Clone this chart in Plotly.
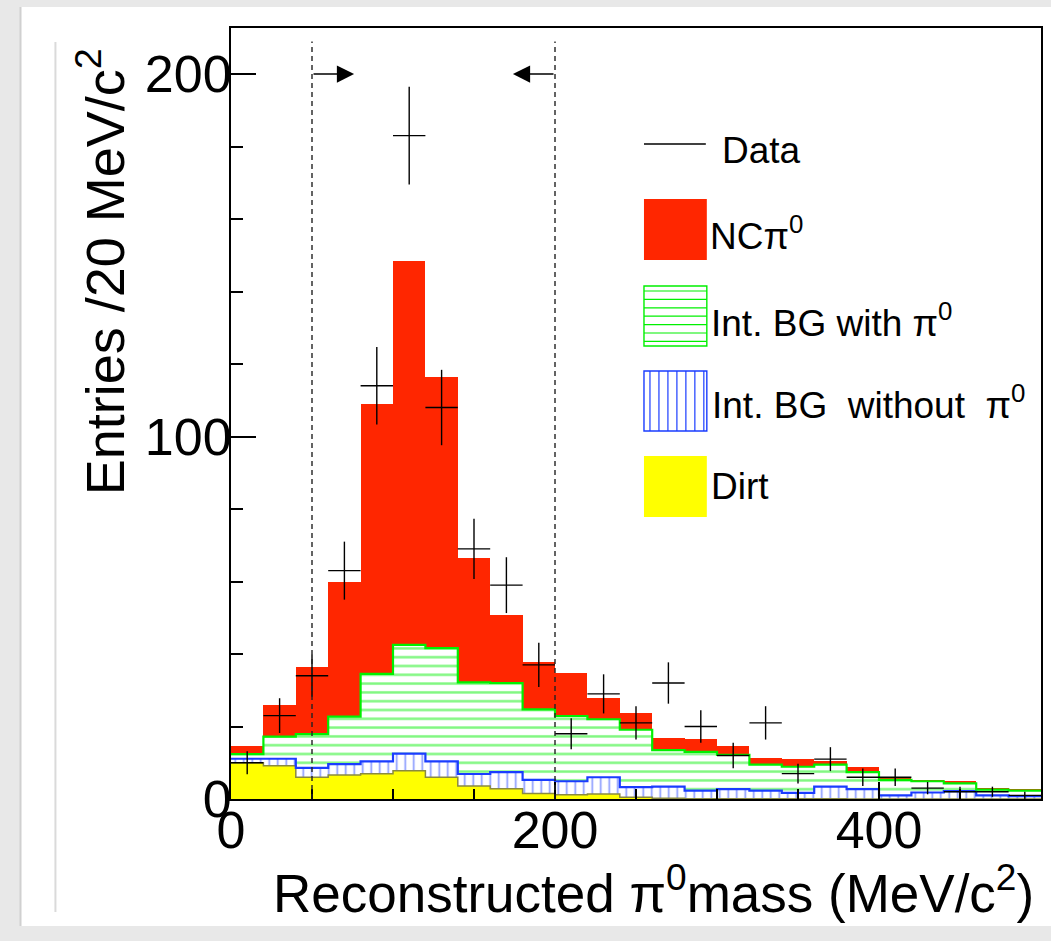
import numpy as np
import plotly.graph_objects as go

# ---------------- data ----------------
bin_centers = [10, 30, 50, 70, 90, 110, 130, 150, 170, 190, 210, 230, 250,
               270, 290, 310, 330, 350, 370, 390, 410, 430, 450, 470, 490]
bin_half_width = 10

dirt = [10.0, 9.2, 6.0, 6.6, 7.0, 7.8, 6.0, 3.6, 2.8, 1.5, 1.2, 1.4, 0.5,
        0.2, 0.1, 0.1, 0.1, 0.1, 0.1, 0.0, 0.0, 0.0, 0.0, 0.0, 0.0]
int_bg_without_pi0 = [1.1, 1.9, 2.6, 3.0, 3.4, 4.7, 4.4, 3.3, 4.6, 3.8, 3.7, 4.6, 2.8,
                      3.2, 2.2, 2.6, 2.2, 1.6, 3.3, 2.7, 1.0, 1.8, 2.2, 1.0, 0.8]
int_bg_with_pi0 = [1.3, 6.1, 9.3, 13.1, 24.1, 30.0, 31.2, 25.3, 24.6, 19.4, 18.0, 16.0, 15.8,
                   10.1, 10.7, 9.5, 7.2, 7.2, 6.1, 4.7, 4.3, 3.1, 2.1, 1.6, 1.5]
nc_pi0 = [2.2, 8.7, 18.6, 37.1, 74.5, 105.9, 74.7, 34.4, 18.9, 13.2, 11.8, 5.8, 4.6,
          3.3, 3.5, 2.3, 1.8, 2.0, 1.1, 1.5, 0.6, 0.4, 0.7, 0.5, 0.5]

data_counts = [10, 23, 34, 63, 114, 183, 108, 69, 59, 37, 18, 29, 21,
               32, 20, 12, 21, 7, 11, 6, 6, 3, 2, 2, 1]
data_errors = [3.2, 4.8, 5.8, 8.0, 10.7, 13.5, 10.4, 8.3, 7.7, 6.1, 4.3, 5.4, 4.6,
               5.7, 4.5, 3.5, 4.6, 2.7, 3.3, 2.4, 2.4, 1.7, 1.4, 1.4, 1.0]

cut_low, cut_high = 50, 200
x_ticks = [0, 200, 400]
y_ticks = [0, 100, 200]

# ---------------- styling ----------------
RED = "#ff2600"
YEL = "#ffff00"
GRN = "#00f000"
BLU = "#1a3cff"
FONT = "Liberation Sans, Arial, Helvetica, sans-serif"

W, H = 1051, 941
L, R, T, B = 231, 1043, 28, 799
YMAX = 212.7


def px(x):
    return (x - L) / (R - L)


def py(y):
    return (B - y) / (B - T)


edges = [c - bin_half_width for c in bin_centers] + [bin_centers[-1] + bin_half_width]
cum_dirt = np.array(dirt)
cum_blue = cum_dirt + np.array(int_bg_without_pi0)
cum_green = cum_blue + np.array(int_bg_with_pi0)

fig = go.Figure()

fig.add_trace(go.Bar(x=bin_centers, y=dirt, width=2 * bin_half_width, name="Dirt",
                     marker=dict(color=YEL, line=dict(width=0))))
fig.add_trace(go.Bar(x=bin_centers, y=int_bg_without_pi0, width=2 * bin_half_width,
                     name="Int. BG without π0",
                     marker=dict(color="white", line=dict(width=0),
                                 pattern=dict(shape="|", fgcolor=BLU, bgcolor="white",
                                              size=8.5, solidity=0.2))))
fig.add_trace(go.Bar(x=bin_centers, y=int_bg_with_pi0, width=2 * bin_half_width,
                     name="Int. BG with π0",
                     marker=dict(color="white", line=dict(width=0),
                                 pattern=dict(shape="-", fgcolor=GRN, bgcolor="white",
                                              size=8.8, solidity=0.28))))
fig.add_trace(go.Bar(x=bin_centers, y=nc_pi0, width=2 * bin_half_width, name="NCπ0",
                     marker=dict(color=RED, line=dict(width=0))))

# step outlines of the cumulative histograms
for cum, col, w in [(cum_dirt, "#8a8a40", 1.5), (cum_blue, BLU, 2.2), (cum_green, GRN, 2.2)]:
    fig.add_trace(go.Scatter(x=edges, y=list(cum) + [cum[-1]], mode="lines",
                             line=dict(color=col, width=w, shape="hv"),
                             hoverinfo="skip", showlegend=False))

fig.add_trace(go.Scatter(
    x=bin_centers, y=data_counts, mode="markers", name="Data",
    marker=dict(size=0, color="rgba(0,0,0,0)", line=dict(width=0)),
    error_x=dict(type="constant", value=bin_half_width, width=0, thickness=1.4, color="black"),
    error_y=dict(type="data", array=data_errors, width=0, thickness=1.4, color="black"),
))

shapes = []
# page background card + faint line
shapes.append(dict(type="rect", xref="paper", yref="paper", layer="below",
                   x0=px(20), x1=px(W + 5), y0=py(926), y1=py(7),
                   fillcolor="white", line=dict(width=0)))
shapes.append(dict(type="line", xref="paper", yref="paper", layer="below",
                   x0=px(55), x1=px(55), y0=py(912), y1=py(42),
                   line=dict(color="#dadada", width=2)))
shapes.append(dict(type="line", xref="paper", yref="paper", layer="below",
                   x0=px(20), x1=px(20), y0=py(926), y1=py(7),
                   line=dict(color="#d0d0d0", width=2)))
# selection cut lines
for xc in (cut_low, cut_high):
    shapes.append(dict(type="line", xref="x", yref="y", layer="above",
                       x0=xc, x1=xc, y0=0, y1=209,
                       line=dict(color="#222222", width=1.4, dash="5px,4px")))

# legend drawn manually (ROOT style)
LX0, LX1 = 645, 708
shapes.append(dict(type="line", xref="paper", yref="paper", x0=px(LX0), x1=px(707),
                   y0=py(144), y1=py(144), line=dict(color="black", width=1.3)))
shapes.append(dict(type="rect", xref="paper", yref="paper", x0=px(LX0), x1=px(LX1),
                   y0=py(260), y1=py(199), fillcolor=RED, line=dict(width=0)))
shapes.append(dict(type="rect", xref="paper", yref="paper", x0=px(LX0), x1=px(LX1),
                   y0=py(346), y1=py(286), fillcolor="white", line=dict(color=GRN, width=1.4)))
for yy in np.arange(291, 345, 8.4):
    shapes.append(dict(type="line", xref="paper", yref="paper", x0=px(LX0), x1=px(LX1),
                       y0=py(yy), y1=py(yy), line=dict(color=GRN, width=1.2)))
shapes.append(dict(type="rect", xref="paper", yref="paper", x0=px(LX0), x1=px(LX1),
                   y0=py(431), y1=py(371), fillcolor="white", line=dict(color=BLU, width=1.4)))
for xx in np.arange(651, 707, 9):
    shapes.append(dict(type="line", xref="paper", yref="paper", x0=px(xx), x1=px(xx),
                       y0=py(431), y1=py(371), line=dict(color=BLU, width=1.2)))
shapes.append(dict(type="rect", xref="paper", yref="paper", x0=px(LX0), x1=px(LX1),
                   y0=py(517), y1=py(456), fillcolor=YEL, line=dict(width=0)))

annotations = []
leg_font = dict(family=FONT, size=37, color="black")
for text, xl, yc in [("Data", 721, 150),
                     ("NCπ<sup>0</sup>", 709, 233),
                     ("Int. BG with π<sup>0</sup>", 710, 320),
                     ("Int. BG\u00a0\u00a0without\u00a0\u00a0π<sup>0</sup>", 711, 402),
                     ("Dirt", 710, 486)]:
    annotations.append(dict(text=text, xref="paper", yref="paper", x=px(xl), y=py(yc),
                            xanchor="left", yanchor="middle", showarrow=False, font=leg_font))

# cut arrows
annotations.append(dict(text="", x=76, y=200, ax=cut_low, ay=200, xref="x", yref="y",
                        axref="x", ayref="y", showarrow=True, arrowhead=2, arrowsize=2.3,
                        arrowwidth=1.5, arrowcolor="black", standoff=0))
annotations.append(dict(text="", x=174, y=200, ax=cut_high, ay=200, xref="x", yref="y",
                        axref="x", ayref="y", showarrow=True, arrowhead=2, arrowsize=2.3,
                        arrowwidth=1.5, arrowcolor="black", standoff=0))

# axis titles
annotations.append(dict(text="Entries /20 MeV/c<sup>2</sup>", xref="paper", yref="paper",
                        x=px(101), y=py(272), textangle=-90, showarrow=False,
                        xanchor="center", yanchor="middle",
                        font=dict(family=FONT, size=54, color="black")))
annotations.append(dict(text="Reconstructed π<sup>0</sup>mass (MeV/c<sup>2</sup>)",
                        xref="paper", yref="paper", x=px(655), y=py(889), showarrow=False,
                        xanchor="center", yanchor="middle",
                        font=dict(family=FONT, size=53, color="black")))

fig.update_layout(
    width=W, height=H,
    margin=dict(l=L, r=W - R, t=T, b=H - B, pad=0),
    paper_bgcolor="#e8e8e8", plot_bgcolor="white",
    barmode="stack", bargap=0,
    showlegend=False,
    shapes=shapes, annotations=annotations,
    font=dict(family=FONT, color="black"),
    xaxis=dict(range=[0, 500], tickvals=x_ticks, ticks="inside", ticklen=17, tickwidth=2,
               tickcolor="black", showline=True, linecolor="black", linewidth=2, mirror=True,
               showgrid=False, zeroline=False, tickfont=dict(family=FONT, size=52),
               ticklabelstandoff=-15,
               minor=dict(dtick=50, tick0=0, ticks="inside", ticklen=10, tickwidth=1.5,
                          tickcolor="black", showgrid=False)),
    yaxis=dict(range=[0, YMAX], tickvals=y_ticks, ticks="inside", ticklen=25, tickwidth=2,
               tickcolor="black", showline=True, linecolor="black", linewidth=2, mirror=True,
               showgrid=False, zeroline=False, tickfont=dict(family=FONT, size=52),
               ticklabelstandoff=-13,
               minor=dict(dtick=20, tick0=0, ticks="inside", ticklen=12, tickwidth=2,
                          tickcolor="black", showgrid=False)),
)

fig.write_html("out.html")
